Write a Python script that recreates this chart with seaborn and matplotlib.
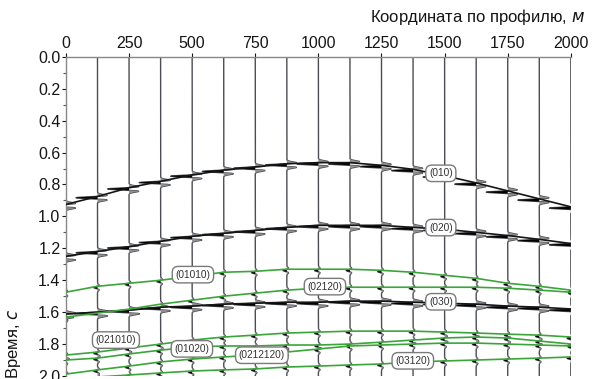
import numpy as np
import pandas as pd
import seaborn as sns
import matplotlib
matplotlib.use("Agg")
import matplotlib.pyplot as plt

# Receiver positions along the profile, m
offsets = [0, 125, 250, 375, 500, 625, 750, 875, 1000, 1125, 1250, 1375,
           1500, 1625, 1750, 1875, 2000]

# Primary reflections (black), two-way time, s
t_010 = [0.925, 0.875, 0.82, 0.78, 0.74, 0.71, 0.69, 0.67, 0.663, 0.663,
         0.68, 0.705, 0.745, 0.79, 0.84, 0.89, 0.94]
t_020 = [1.25, 1.22, 1.19, 1.156, 1.125, 1.106, 1.088, 1.069, 1.056, 1.056,
         1.056, 1.069, 1.08, 1.10, 1.12, 1.144, 1.17]
t_030 = [1.612, 1.60, 1.588, 1.569, 1.562, 1.55, 1.544, 1.538, 1.538, 1.531,
         1.531, 1.538, 1.544, 1.55, 1.562, 1.569, 1.58]

# Multiples (green), s
t_01010 = [1.475, 1.438, 1.419, 1.40, 1.375, 1.35, 1.344, 1.331, 1.331, 1.331,
           1.338, 1.35, 1.369, 1.388, 1.419, 1.438, 1.462]
t_02120 = [1.631, 1.606, 1.581, 1.55, 1.525, 1.50, 1.481, 1.462, 1.45, 1.444,
           1.444, 1.444, 1.444, 1.444, 1.45, 1.462, 1.475]
t_021010 = [1.869, 1.85, 1.825, 1.80, 1.775, 1.756, 1.744, 1.731, 1.725, 1.719,
            1.719, 1.719, 1.725, 1.731, 1.738, 1.744, 1.756]
t_01020 = [1.90, 1.888, 1.862, 1.838, 1.819, 1.812, 1.812, 1.806, 1.806, 1.80,
           1.788, 1.775, 1.762, 1.756, 1.762, 1.781, 1.80]
t_0212120 = [1.988, 1.962, 1.938, 1.912, 1.894, 1.881, 1.869, 1.85, 1.831,
             1.812, 1.806, 1.80, 1.794, 1.794, 1.80, 1.806, 1.812]
t_03120 = [2.02, 2.006, 1.994, 1.981, 1.969, 1.962, 1.956, 1.944, 1.938, 1.931,
           1.925, 1.912, 1.906, 1.90, 1.894, 1.888, 1.881]

primaries = {"(010)": t_010, "(020)": t_020, "(030)": t_030}
multiples = {"(01010)": t_01010, "(02120)": t_02120, "(021010)": t_021010,
             "(01020)": t_01020, "(0212120)": t_0212120, "(03120)": t_03120}

# Label anchors: (offset, time)
label_pos = {"(010)": (1485, 0.73), "(020)": (1485, 1.07), "(030)": (1485, 1.535),
             "(01010)": (503, 1.365), "(02120)": (1026, 1.44),
             "(021010)": (198, 1.775), "(01020)": (499, 1.83),
             "(0212120)": (776, 1.87), "(03120)": (1374, 1.905)}

sns.set_theme(style="white")
plt.rcParams["font.family"] = ["Liberation Sans", "DejaVu Sans"]

fig = plt.figure(figsize=(5.94, 3.79), dpi=100)
ax = fig.add_axes([0.111, 0.008, 0.850, 0.842])

# Wiggle traces
t = np.linspace(0, 2.05, 8201)
sig = 0.012


def wavelet(tau, amp):
    a = (tau / sig) ** 2
    return -amp * (1 - 2 * a) * np.exp(-a)


for i, x0 in enumerate(offsets):
    w = np.zeros_like(t)
    for series in primaries.values():
        w += wavelet(t - series[i] - 0.008, 85.0)
    for series in multiples.values():
        w += wavelet(t - series[i] - 0.008, 15.0)
    ax.plot(x0 + w, t, color="#4a4d52", lw=1.0, zorder=2)
    ax.fill_betweenx(t, x0, x0 + w, where=w < 0, color="black", lw=0, zorder=2)
    ax.fill_betweenx(t, x0, x0 + w, where=w > 0, color="#8e8e8e", lw=0, zorder=2)

# Event curves
rows = []
for name, series in {**primaries, **multiples}.items():
    for x, v in zip(offsets, series):
        rows.append({"x": x, "t": v, "event": name})
df = pd.DataFrame(rows)
palette = {n: "#151515" for n in primaries}
palette.update({n: "#3aa53a" for n in multiples})
sns.lineplot(data=df, x="x", y="t", hue="event", palette=palette,
             legend=False, lw=1.2, ax=ax, zorder=3, sort=False,
             estimator=None)

for name, (x, y) in label_pos.items():
    ax.text(x, y, name, fontsize=7.3, ha="center", va="center", zorder=5,
            color="#333333",
            bbox=dict(boxstyle="round,pad=0.32,rounding_size=0.6",
                      fc="white", ec="#7a7a7a", lw=1.0))

ax.set_xlim(0, 2000)
ax.set_ylim(2.0, 0.0)
ax.xaxis.tick_top()
ax.xaxis.set_label_position("top")
ax.set_xticks(range(0, 2001, 250))
ax.set_yticks(np.arange(0, 2.01, 0.2))
ax.set_yticks(np.arange(0.1, 2.0, 0.2), minor=True)
ax.yaxis.set_major_formatter(matplotlib.ticker.FormatStrFormatter("%.1f"))
ax.tick_params(axis="both", which="major", labelsize=11.5, colors="#151515",
               length=3, width=0.8, pad=1, left=True, top=True)
ax.tick_params(axis="y", which="minor", length=2, width=0.8, left=True,
               colors="#555555")
for side in ["right", "bottom"]:
    ax.spines[side].set_visible(False)
for side in ["top", "left"]:
    ax.spines[side].set_color("#888888")
    ax.spines[side].set_linewidth(1.0)
ax.set_xlabel("")
ax.set_ylabel("")
fig.text(0.985, 0.955, "Координата по профилю, $\\mathit{м}$", ha="right",
         va="center", fontsize=12, color="#151515")
fig.text(0.022, 0.0, "Время, $\\mathit{с}$", rotation=90, ha="center",
         va="bottom", fontsize=12, color="#151515")

fig.savefig("out.png", dpi=100)
